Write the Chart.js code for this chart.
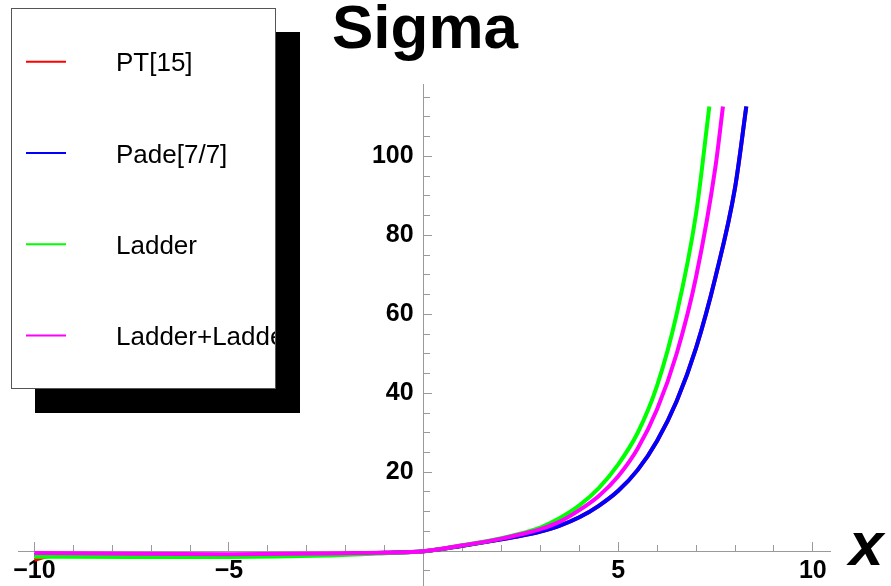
<!DOCTYPE html>
<html>
<head>
<meta charset="utf-8">
<script src="https://cdn.jsdelivr.net/npm/chart.js@4.4.1/dist/chart.umd.min.js"></script>
<style>
	body { margin: 0; background: #fff; }
	#wrap { position: relative; width: 891px; height: 586px; }
</style>
</head>
<body>
<div id="wrap"><canvas id="sigma-chart"></canvas></div>
<script>
// values
var seriesNames = ['PT[15]', 'Pade[7/7]', 'Ladder', 'Ladder+Ladder'];
var seriesColors = ['#ff0000', '#0000ff', '#00ff00', '#ff00ff'];

var ptX = [-10, -9.6, -7.5, -5, -2.5, -1, 0, 1, 2, 2.5, 3, 3.5, 4, 4.5, 5, 5.5, 6, 6.5, 7, 7.5, 8, 8.29];
var ptY = [-2.2, -1.2, -1.0, -1.0, -0.8, -0.4, 0, 1.4, 3.0, 3.9, 5.0, 6.5, 8.6, 11.5, 15.3, 20.6, 28.0, 38.0, 51.5, 69.5, 92.0, 112.6];

var padeX = [-10, -7.5, -5, -2.5, -1, 0, 1, 2, 2.5, 3, 3.5, 4, 4.5, 5, 5.5, 6, 6.5, 7, 7.5, 8, 8.29];
var padeY = [-0.9, -1.0, -1.0, -0.8, -0.4, 0, 1.4, 3.0, 3.9, 5.0, 6.5, 8.6, 11.5, 15.3, 20.6, 28.0, 38.0, 51.5, 69.5, 92.0, 112.6];

var ladderX = [-10, -7.5, -5, -2.5, -1, 0, 1, 2, 2.5, 3, 3.5, 4, 4.5, 5, 5.5, 6, 6.5, 7, 7.34];
var ladderY = [-1.4, -1.45, -1.45, -1.1, -0.5, 0, 1.5, 3.3, 4.5, 6.0, 8.4, 11.6, 16.0, 22.0, 30.0, 42.0, 60.0, 85.5, 112.6];

var ladder2X = [-10, -7.5, -5, -2.5, -1, 0, 1, 2, 2.5, 3, 3.5, 4, 4.5, 5, 5.5, 6, 6.5, 7, 7.5, 7.69];
var ladder2Y = [-0.45, -0.65, -0.73, -0.6, -0.35, 0, 1.5, 3.2, 4.3, 5.6, 7.5, 10.4, 14.0, 19.0, 26.0, 36.0, 50.0, 69.5, 97.5, 112.6];

var xMin = -10.42, xMax = 10.44;
var yMin = -8.8, yMax = 118.3;

var font = "'Liberation Sans', Arial, Helvetica, sans-serif";
var axisGray = '#9a9a9a';

function pts(xs, ys){
	return xs.map(function(x, i){ return {x: x, y: ys[i]}; });
}

function series(i, xs, ys, order){
	return {
		label: seriesNames[i],
		data: pts(xs, ys),
		borderColor: seriesColors[i],
		borderWidth: 4,
		pointRadius: 0,
		fill: false,
		cubicInterpolationMode: 'monotone',
		order: order
	};
}

// axes sit on the zero lines, so they should not eat into the layout
function noSize(scale){
	if (scale.isHorizontal()) scale.height = 0; else scale.width = 0;
	scale.paddingTop = 0;
	scale.paddingBottom = 0;
	scale.paddingLeft = 0;
	scale.paddingRight = 0;
}

function minus(v){
	return v < 0 ? '\u2212' + Math.abs(v) : '' + v;
}

// title, x label and the boxed legend with its shadow
var decorations = {
	id: 'decorations',
	afterDraw: function(chart){
		var ctx = chart.ctx;
		ctx.save();

		ctx.fillStyle = '#000';
		ctx.textAlign = 'center';
		ctx.textBaseline = 'alphabetic';
		ctx.font = 'bold 62px ' + font;
		ctx.fillText('Sigma', 425, 48);

		ctx.textAlign = 'left';
		ctx.font = 'italic bold 62px ' + font;
		ctx.fillText('x', 849, 565);

		// legend
		ctx.fillStyle = '#000';
		ctx.fillRect(35, 32, 265, 381);
		ctx.fillStyle = '#fff';
		ctx.fillRect(11.5, 8.5, 264, 380);
		ctx.strokeStyle = '#555';
		ctx.lineWidth = 1;
		ctx.strokeRect(11.5, 8.5, 264, 380);

		ctx.beginPath();
		ctx.rect(12, 9, 263, 379);
		ctx.clip();
		ctx.font = '26px ' + font;
		chart.data.datasets.forEach(function(ds, i){
			var y = 61.7 + i * 91.3;
			ctx.strokeStyle = ds.borderColor;
			ctx.lineWidth = 2;
			ctx.beginPath();
			ctx.moveTo(26, y);
			ctx.lineTo(66, y);
			ctx.stroke();
			ctx.fillStyle = '#000';
			ctx.fillText(ds.label, 116, y + 9.5);
		});
		ctx.restore();
	}
};

var chart = new Chart(document.getElementById('sigma-chart').getContext('2d'), {
	type: 'line',
	data: {
		datasets: [
			series(0, ptX, ptY, 3),
			series(1, padeX, padeY, 2),
			series(2, ladderX, ladderY, 1),
			series(3, ladder2X, ladder2Y, 0)
		]
	},
	options: {
		responsive: true,
		maintainAspectRatio: false,
		animation: false,
		layout: { padding: { left: 18, right: 61, top: 84, bottom: 0 } },
		plugins: {
			legend: { display: false },
			tooltip: { enabled: false }
		},
		scales: {
			x: {
				type: 'linear',
				min: xMin, max: xMax,
				position: { y: 0 },
				afterFit: noSize,
				border: { display: true, color: axisGray, width: 1 },
				grid: { drawOnChartArea: false, drawTicks: true, tickLength: -10, tickColor: axisGray },
				ticks: {
					stepSize: 5, includeBounds: false, autoSkip: false, maxRotation: 0,
					padding: 15, color: '#000',
					font: { family: font, size: 25, weight: 'bold' },
					callback: function(v){ return v === 0 ? '' : minus(v); }
				}
			},
			x2: {
				type: 'linear',
				axis: 'x',
				min: xMin, max: xMax,
				position: { y: 0 },
				afterFit: noSize,
				border: { display: false },
				grid: { drawOnChartArea: false, drawTicks: true, tickLength: -6, tickColor: axisGray },
				ticks: { stepSize: 1, includeBounds: false, autoSkip: false, display: false }
			},
			y: {
				type: 'linear',
				min: yMin, max: yMax,
				position: { x: 0 },
				afterFit: noSize,
				border: { display: true, color: axisGray, width: 1 },
				grid: { drawOnChartArea: false, drawTicks: true, tickLength: -9, tickColor: axisGray },
				ticks: {
					stepSize: 20, includeBounds: false, autoSkip: false,
					color: '#000',
					font: { family: font, size: 25, weight: 'bold' },
					// labels are right aligned on the axis itself, thin spaces give the gap
					callback: function(v){ return v <= 0 ? '' : v + '\u2009\u2009'; }
				}
			},
			y2: {
				type: 'linear',
				axis: 'y',
				min: yMin, max: yMax,
				position: { x: 0 },
				afterFit: noSize,
				border: { display: false },
				grid: { drawOnChartArea: false, drawTicks: true, tickLength: -6, tickColor: axisGray },
				ticks: { stepSize: 5, includeBounds: false, autoSkip: false, display: false }
			}
		}
	},
	plugins: [decorations]
});
</script>
</body>
</html>
